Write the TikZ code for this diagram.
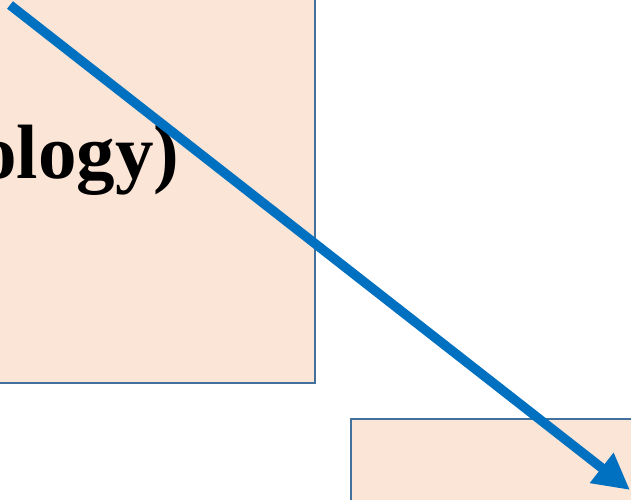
\documentclass[tikz,border=0pt]{standalone}
\usepackage{fontspec}
\setmainfont{Liberation Serif}
\usetikzlibrary{arrows.meta}
\definecolor{boxfill}{HTML}{FBE5D6}
\definecolor{boxline}{HTML}{41719C}
\definecolor{arrowblue}{HTML}{0070C0}
\begin{document}
\begin{tikzpicture}[x=1pt,y=-1pt,
  panel/.style={fill=boxfill,draw=boxline,line width=1.5pt},
  bigarrow/.style={draw=arrowblue,line width=9.5pt,-{Triangle[length=36pt,width=36pt,fill=arrowblue]}}]
\useasboundingbox (0,0) rectangle (631,499);
\clip (0,0) rectangle (631,499);
\fill[white] (0,0) rectangle (631,499);
\draw[panel] (-10,-10) rectangle (315,383);
\draw[panel] (351,419) rectangle (645,515);
\node[anchor=base west,inner sep=0pt,font=\bfseries\fontsize{77}{82}\selectfont] (label) at (-22,178) {ology)};
\coordinate (start) at (10,5);
\coordinate (tip) at (630,490);
\draw[bigarrow] (start) -- (tip);
\end{tikzpicture}
\end{document}
